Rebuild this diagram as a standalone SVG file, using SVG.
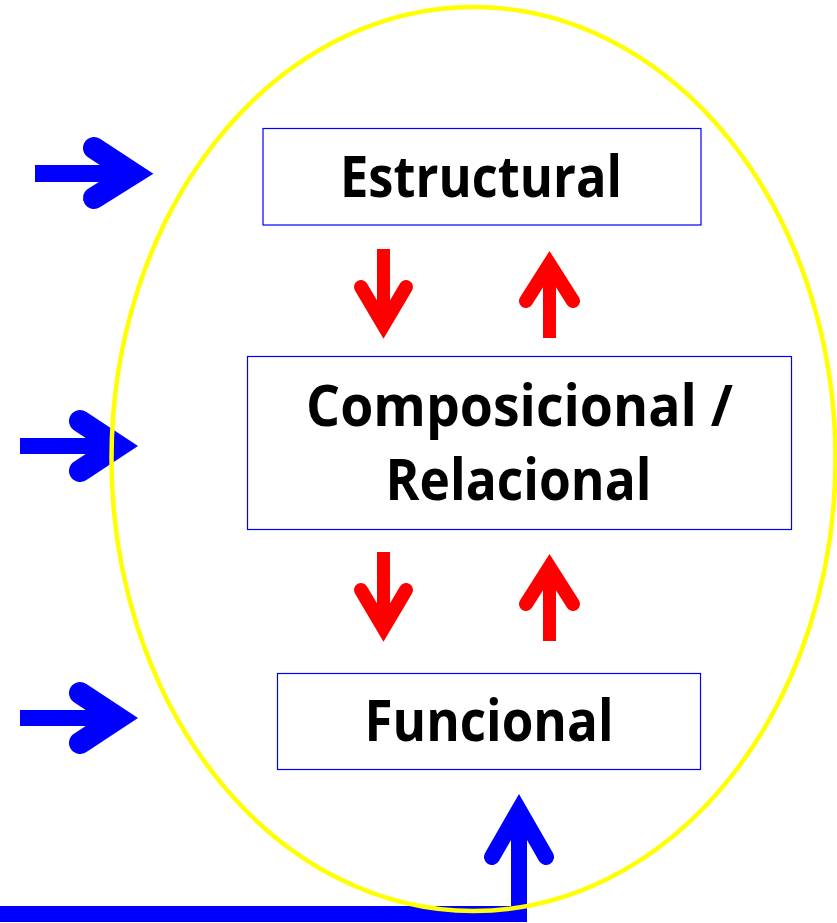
<svg xmlns="http://www.w3.org/2000/svg" width="837" height="923" viewBox="0 0 837 923">
  <style>
    .box { fill: #ffffff; stroke: #0000ff; stroke-width: 1.2; }
    .label { font-family: "Open Sans", "Noto Sans", "Liberation Sans", sans-serif; font-weight: 700; font-size: 57px; fill: #000000; }
    .blue-shaft { stroke: #0000ff; stroke-linecap: butt; fill: none; }
    .blue-head { stroke: #0000ff; stroke-linecap: round; stroke-linejoin: miter; fill: none; }
    .red-shaft { stroke: #ff0000; stroke-width: 13; stroke-linecap: butt; fill: none; }
    .red-head { stroke: #ff0000; stroke-width: 14; stroke-linecap: round; stroke-linejoin: miter; fill: none; }
    .frame { fill: none; stroke: #ffff00; stroke-width: 4.5; }
  </style>

  <rect width="837" height="923" fill="#ffffff"/>

  <!-- connectors: inputs (blue) and links between levels (red) -->
  <g id="connectors">
    <!-- input into Estructural level -->
    <g id="input-top">
      <line class="blue-shaft" x1="35" y1="173.5" x2="140" y2="173.5" stroke-width="17"/>
      <polyline class="blue-head" points="94,148 133,173.5 94,198" stroke-width="22"/>
    </g>
    <!-- input into Composicional level -->
    <g id="input-middle">
      <line class="blue-shaft" x1="20" y1="446" x2="125" y2="446" stroke-width="16"/>
      <polyline class="blue-head" points="80,421 118,446 80,471" stroke-width="22"/>
    </g>
    <!-- input into Funcional level -->
    <g id="input-bottom">
      <line class="blue-shaft" x1="20" y1="718" x2="125" y2="718" stroke-width="16"/>
      <polyline class="blue-head" points="80,693 118,718 80,743" stroke-width="22"/>
    </g>
    <!-- bottom feed rising into Funcional -->
    <g id="input-feed">
      <line class="blue-shaft" x1="0" y1="914" x2="527" y2="914" stroke-width="16"/>
      <line class="blue-shaft" x1="519" y1="922" x2="519" y2="812" stroke-width="16"/>
      <polyline class="blue-head" points="492,857 519,810 546,857" stroke-width="16"/>
    </g>

    <!-- Estructural -> Composicional -->
    <g id="link-e-c">
      <line class="red-shaft" x1="383.5" y1="249" x2="383.5" y2="322"/>
      <polyline class="red-head" points="361,287 383.5,325 406,287"/>
    </g>
    <!-- Composicional -> Estructural -->
    <g id="link-c-e">
      <line class="red-shaft" x1="549.5" y1="338" x2="549.5" y2="268"/>
      <polyline class="red-head" points="526,301 549.5,264 573,301"/>
    </g>
    <!-- Composicional -> Funcional -->
    <g id="link-c-f">
      <line class="red-shaft" x1="383.5" y1="552" x2="383.5" y2="625"/>
      <polyline class="red-head" points="361,590 383.5,628 406,590"/>
    </g>
    <!-- Funcional -> Composicional -->
    <g id="link-f-c">
      <line class="red-shaft" x1="549.5" y1="641" x2="549.5" y2="571"/>
      <polyline class="red-head" points="526,604 549.5,567 573,604"/>
    </g>
  </g>

  <!-- levels -->
  <g id="node-estructural">
    <rect class="box" x="263" y="128.5" width="438" height="96.5"/>
    <text class="label" x="481" y="197" text-anchor="middle" textLength="282" lengthAdjust="spacingAndGlyphs">Estructural</text>
  </g>
  <g id="node-composicional">
    <rect class="box" x="247.5" y="356.5" width="544" height="173"/>
    <text class="label" x="519.5" y="426" text-anchor="middle" textLength="427" lengthAdjust="spacingAndGlyphs">Composicional /</text>
    <text class="label" x="518.5" y="500" text-anchor="middle" textLength="266" lengthAdjust="spacingAndGlyphs">Relacional</text>
  </g>
  <g id="node-funcional">
    <rect class="box" x="277.5" y="673.5" width="423" height="96"/>
    <text class="label" x="489" y="741" text-anchor="middle" textLength="249" lengthAdjust="spacingAndGlyphs">Funcional</text>
  </g>

  <!-- system boundary -->
  <ellipse id="system-boundary" class="frame" cx="473.5" cy="459" rx="362" ry="452"/>
</svg>
